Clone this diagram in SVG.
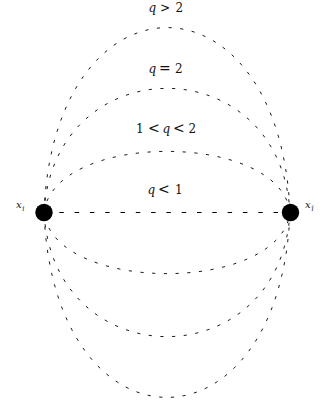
<svg xmlns="http://www.w3.org/2000/svg" width="334" height="405" viewBox="0 0 334 405">
<style>
.c{fill:none;stroke:#000;stroke-width:0.9;stroke-dasharray:3.2 8.5}
.l{fill:none;stroke:#000;stroke-width:1.1;stroke-dasharray:4.5 10.8}
.t{font-family:"DejaVu Serif","Liberation Serif",serif;font-size:12px;fill:#111}
.m{font-style:italic}
.r{font-size:14px}
.s{font-family:"DejaVu Serif","Liberation Serif",serif;font-size:10px;fill:#111;font-style:italic}
.ss{font-size:7px}
</style>
<rect width="334" height="405" fill="#fff"/>
<g id="connectors">
<path class="l" d="M44,212.5 H290"/>
<path class="c" d="M44,212.5 C54,131 280,131 290,212.5 C280,294 54,294 44,212.5"/>
<path class="c" d="M44,212.5 C54,47 280,47 290,212.5 C280,378 54,378 44,212.5"/>
<path class="c" d="M44,212.5 C54,-34 280,-34 290,212.5 C280,459 54,459 44,212.5"/>
</g>
<g id="labels">
<text class="t" y="11.5"><tspan class="m" x="148.5">q</tspan><tspan x="160">&gt;</tspan><tspan x="175.5">2</tspan></text>
<text class="t" y="72.5"><tspan class="m" x="148.5">q</tspan><tspan class="r" x="159">=</tspan><tspan x="175">2</tspan></text>
<text class="t" y="132.5"><tspan x="136">1</tspan><tspan class="r" x="148">&lt;</tspan><tspan class="m" x="162.5">q</tspan><tspan class="r" x="173">&lt;</tspan><tspan x="188.5">2</tspan></text>
<text class="t" y="193.5"><tspan class="m" x="147.5">q</tspan><tspan class="r" x="158">&lt;</tspan><tspan x="175">1</tspan></text>
</g>
<g id="node-xi">
<circle cx="44" cy="212.5" r="8.7" fill="#000"/>
<text class="s" x="16" y="208">x<tspan class="ss" dx="0.5" dy="2.5">i</tspan></text>
</g>
<g id="node-xibar">
<circle cx="290.5" cy="212.5" r="8.7" fill="#000"/>
<text class="s" x="305" y="208">x<tspan class="ss" dx="0.5" dy="2.5">ī</tspan></text>
</g>
</svg>
